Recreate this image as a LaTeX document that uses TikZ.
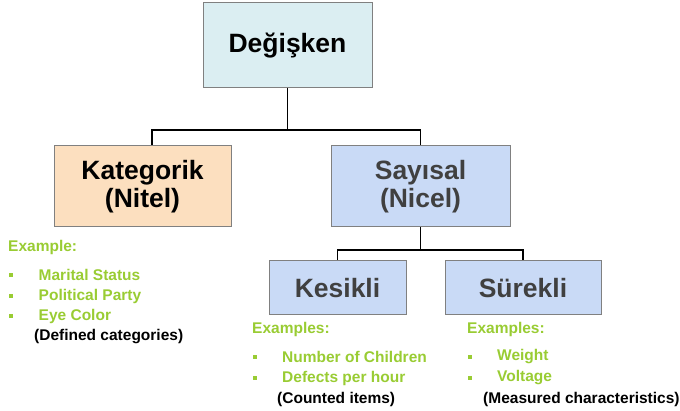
\documentclass[tikz,border=0pt]{standalone}
\usepackage{fontspec}
\setmainfont{Liberation Sans}
\usetikzlibrary{positioning,calc}
\definecolor{grn}{RGB}{153,204,51}
\definecolor{cyanfill}{RGB}{219,238,242}
\definecolor{peach}{RGB}{252,223,191}
\definecolor{bluefill}{RGB}{201,218,246}
\definecolor{boxline}{RGB}{128,128,128}
\definecolor{darktxt}{RGB}{64,64,64}
\tikzset{box/.style={draw=boxline, line width=1pt, rectangle, inner sep=0pt, align=center, font=\bfseries\fontsize{26.5}{28.5}\selectfont}}
\tikzstyle{gtxt}=[anchor=west, inner sep=0pt, text=grn, font=\bfseries\fontsize{15.5}{16}\selectfont]
\tikzstyle{btxt}=[anchor=west, inner sep=0pt, text=black, font=\bfseries\fontsize{15.5}{16}\selectfont]
\tikzstyle{bul}=[rectangle, fill=grn, inner sep=0pt, minimum size=4pt]
\tikzstyle{conn}=[draw, line width=1.6pt]

\begin{document}
\begin{tikzpicture}[x=1pt, y=-1pt]
\useasboundingbox (0,0) rectangle (680,411);
% boxes
\node[box, fill=cyanfill, minimum width=169pt, minimum height=85pt] (deg) at (287.5,45.5) {Değişken};
\node[box, fill=peach, minimum width=177pt, minimum height=81pt] (kat) at (142.5,186.5) {Kategorik\\(Nitel)};
\node[box, fill=bluefill, text=darktxt, minimum width=179pt, minimum height=81pt] (say) at (420.5,186.5) {Sayısal\\(Nicel)};
\node[box, fill=bluefill, text=darktxt, minimum width=137pt, minimum height=54pt] (kes) at (337.5,288) {Kesikli};
\node[box, fill=bluefill, text=darktxt, minimum width=156pt, minimum height=54pt] (sur) at (523,288) {Sürekli};

% connectors
\coordinate (j1) at (287.5,130);
\coordinate (j2) at (420.5,250);
\draw[conn] (deg.south) -- (j1) -| ([xshift=9.5pt]kat.north);
\draw[conn] (j1) -| (say.north);
\draw[conn] (say.south) -- (j2) -| (kes.north);
\draw[conn] (j2) -| (sur.north);

% Kategorik examples
\node[gtxt] (ex1) at (8,247) {Example:};
\node[bul] (b1) at (11,275) {};
\node[gtxt] (t1) at (38.5,275) {Marital Status};
\node[bul] (b2) at (11,296) {};
\node[gtxt] (t2) at (38.5,296) {Political Party};
\node[bul] (b3) at (11,316) {};
\node[gtxt] (t3) at (38.5,316) {Eye Color};
\node[btxt] (n1) at (34,337) {(Defined categories)};

% Kesikli examples
\node[gtxt] (ex2) at (252,329) {Examples:};
\node[bul] (b4) at (255,357) {};
\node[gtxt] (t4) at (282,357) {Number of Children};
\node[bul] (b5) at (255,378) {};
\node[gtxt] (t5) at (282,378) {Defects per hour};
\node[btxt] (n2) at (277,399) {(Counted items)};

% Surekli examples
\node[gtxt] (ex3) at (467,329) {Examples:};
\node[bul] (b6) at (470,357) {};
\node[gtxt] (t6) at (497,357) {Weight};
\node[bul] (b7) at (470,378) {};
\node[gtxt] (t7) at (497,378) {Voltage};
\node[btxt] (n3) at (483,399) {(Measured characteristics)};
\end{tikzpicture}
\end{document}
